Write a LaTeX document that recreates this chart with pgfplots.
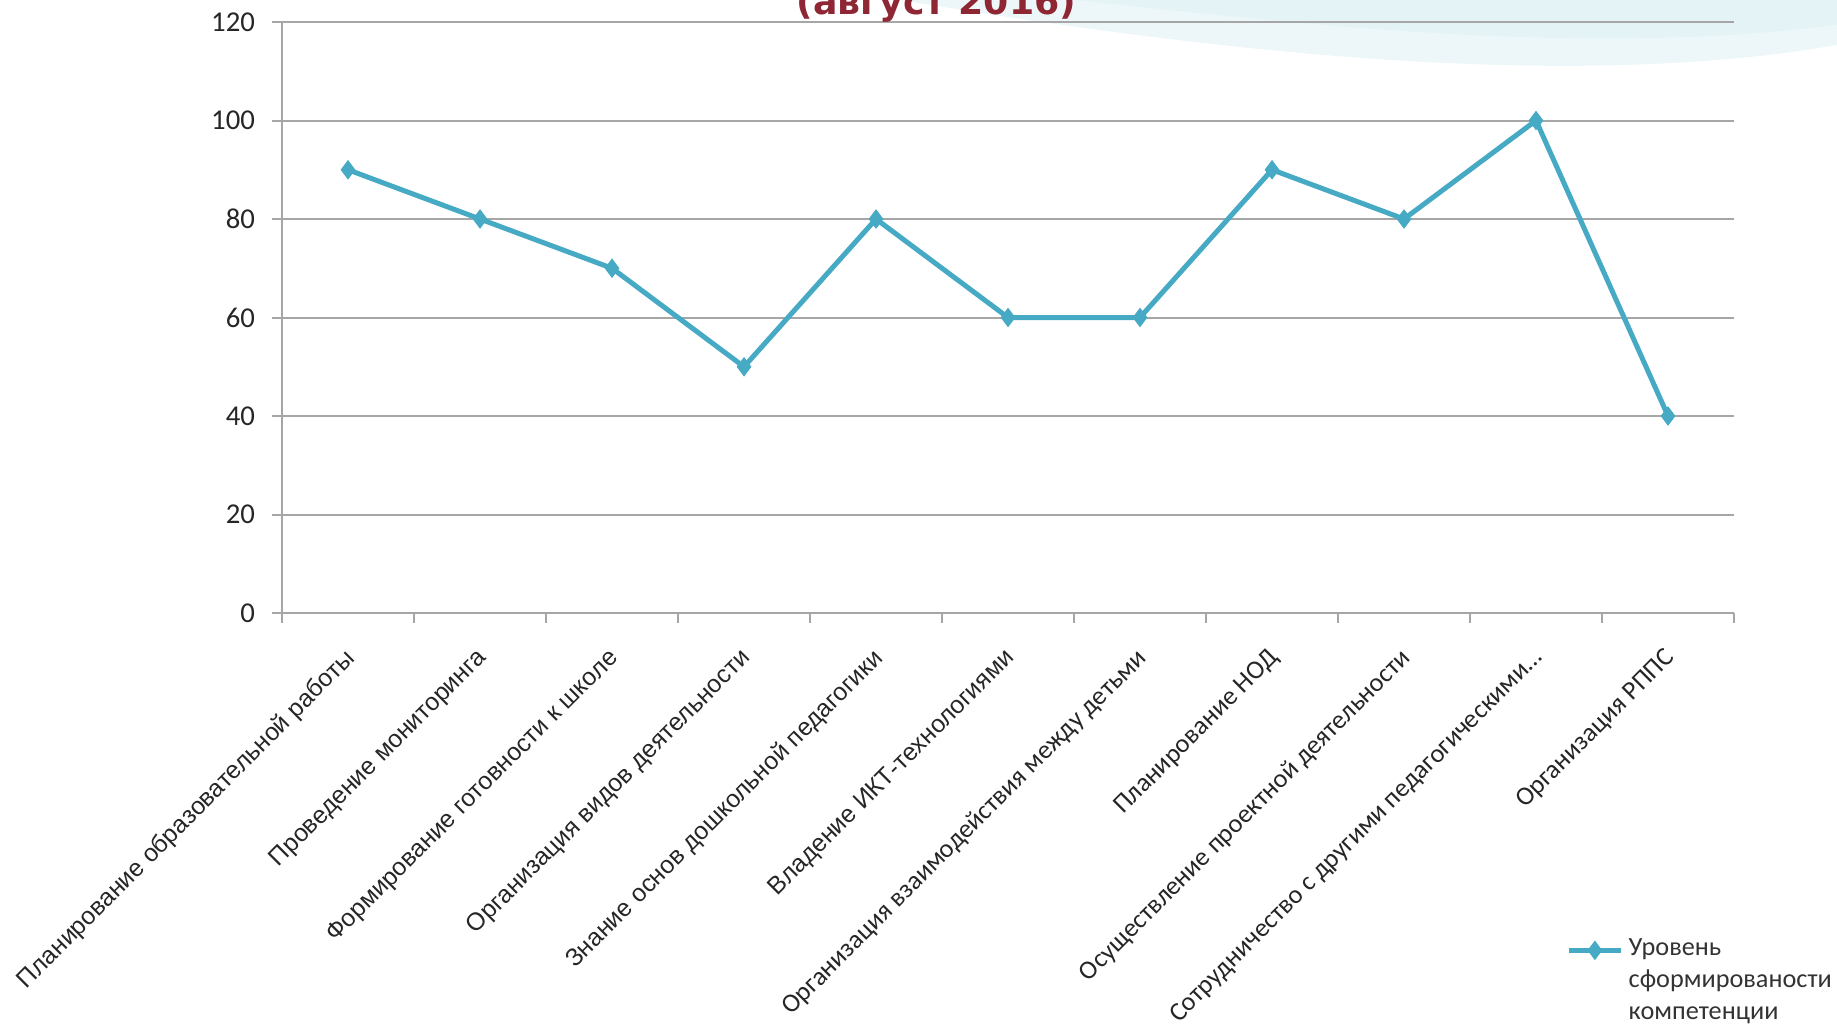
\documentclass[border=0pt]{standalone}
\usepackage{fontspec}
\usepackage{pgfplots}
\pgfplotsset{compat=1.18}
\setmainfont{Carlito}
\newfontfamily\arialf{Liberation Sans}
\newfontfamily\titlef{DejaVu Sans}

\definecolor{linecol}{HTML}{46AAC5}
\definecolor{gridgray}{HTML}{A6A6A6}
\definecolor{titlered}{HTML}{8E2634}
\definecolor{wave}{HTML}{D6EEF2}

\begin{document}
\begin{tikzpicture}
% faint wave in the top right corner
\fill[wave, opacity=0.45] (360pt,410pt) .. controls (470pt,392pt) and (620pt,372pt) .. (734.8pt,392pt) -- (734.8pt,410pt) -- cycle;
\fill[wave, opacity=0.4] (430pt,410pt) .. controls (540pt,398pt) and (640pt,388pt) .. (734.8pt,400pt) -- (734.8pt,410pt) -- cycle;

\begin{axis}[
    at={(112.8pt,164.8pt)}, anchor=south west,
    scale only axis,
    width=580.8pt, height=236.4pt,
    xmin=0.5, xmax=11.5,
    ymin=0, ymax=120,
    axis lines*=left,
    axis line style={draw=gridgray, line width=0.8pt},
    ytick={0,20,...,120},
    ymajorgrids,
    grid style={draw=gridgray, line width=0.8pt},
    tick align=outside,
    major tick length=4pt,
    tick style={draw=gridgray, line width=0.8pt},
    xtick={0.5,1.5,2.5,3.5,4.5,5.5,6.5,7.5,8.5,9.5,10.5,11.5},
    xticklabels={
        {\arialf\fontsize{9.9}{12}\selectfont Планирование образовательной работы},
        {\arialf\fontsize{9.9}{12}\selectfont Проведение мониторинга},
        {\arialf\fontsize{9.9}{12}\selectfont Формирование готовности к школе},
        {\arialf\fontsize{9.9}{12}\selectfont Организация видов деятельности},
        {\arialf\fontsize{9.9}{12}\selectfont Знание основ дошкольной педагогики},
        {\arialf\fontsize{9.9}{12}\selectfont Владение ИКТ-технологиями},
        {Организация взаимодействия между детьми},
        {Планирование НОД},
        {Осуществление проектной деятельности},
        {Сотрудничество с другими педагогическими\ldots},
        {Организация РППС},
        {}},
    xticklabel style={xshift=24.4pt, yshift=-9.3pt, rotate=45, anchor=north east,
        inner sep=0pt, font=\fontsize{10.5}{12}\selectfont, text=black!85},
    yticklabel style={font=\fontsize{11.5}{13}\selectfont, text=black!85, xshift=-3.3pt},
    /pgf/number format/assume math mode=true,
    legend style={at={(0.884,-0.532)}, anchor=north west, draw=none, fill=none,
        inner sep=0pt, font=\fontsize{10.5}{12.8}\selectfont, text=black!80,
        cells={anchor=base west}},
    legend image code/.code={
        \draw[mark repeat=2, mark phase=2]
        plot coordinates {(0cm,0.07cm) (0.37cm,0.07cm) (0.74cm,0.07cm)};
    },
]
\addplot[color=linecol, line width=2pt, mark=diamond*, mark size=3.6pt,
    mark options={fill=linecol, draw=linecol, line width=0.4pt}]
coordinates {
    (1,90)
    (2,80)
    (3,70)
    (4,50)
    (5,80)
    (6,60)
    (7,60)
    (8,90)
    (9,80)
    (10,100)
    (11,40)
};
\addlegendentry{\begin{tabular}[t]{@{}l@{}}Уровень\\сформированости\\компетенции\end{tabular}}
\end{axis}

\node[anchor=base, font=\fontsize{14.5}{16}\selectfont\titlef\bfseries, text=titlered]
    at (374.6pt,404pt) {(август 2016)};

\pgfresetboundingbox
\useasboundingbox (0,0) rectangle (734.8pt,410pt);
\end{tikzpicture}
\end{document}
